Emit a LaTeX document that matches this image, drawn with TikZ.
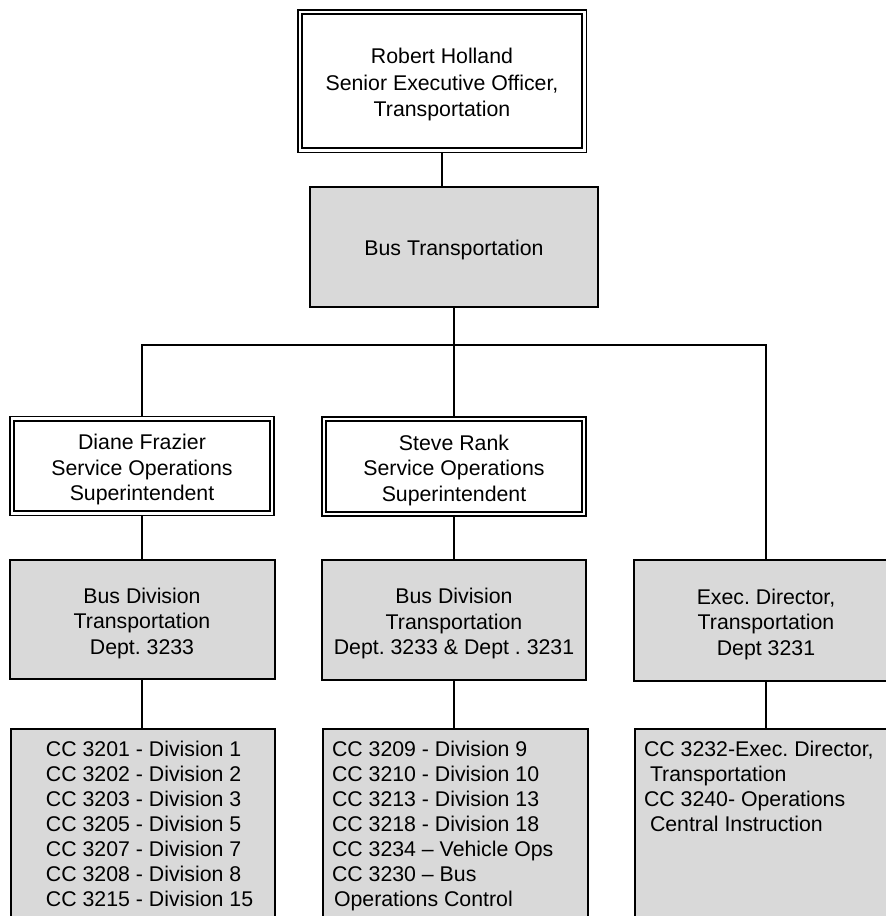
\documentclass[tikz,border=0pt]{standalone}
\usepackage{fontspec}
\setmainfont{Liberation Sans}
\definecolor{boxgray}{gray}{0.85}
\frenchspacing
\newcommand\tstrut{\rule{0pt}{22.5pt}}
\begin{document}
\begin{tikzpicture}[x=1pt,y=-1pt,
  base/.style={font=\fontsize{21.3}{25.5}\selectfont\frenchspacing, align=center, inner sep=0pt},
  dblbox/.style={base, draw=black, double=white, double distance=2.8pt, line width=1.5pt, outer sep=2.9pt, fill=white},
  greybox/.style={base, draw=black, line width=2pt, fill=boxgray},
  listbox/.style={font=\fontsize{21.3}{25}\selectfont\frenchspacing, draw=black, line width=2pt, fill=boxgray, inner xsep=0pt, inner ysep=12.5pt},
  conn/.style={draw=black, line width=2pt}
]
\useasboundingbox (0,0) rectangle (886,916);
\clip (0,0) rectangle (886,916);

% boxes
\node[dblbox, font=\fontsize{21.3}{26.5}\selectfont, minimum width=284.2pt, minimum height=138.2pt] (top) at (442,81)
  {\tstrut Robert Holland\\Senior Executive Officer,\\Transportation};
\node[greybox, minimum width=288pt, minimum height=120pt] (bt) at (454,247)
  {\rule{0pt}{21.5pt}Bus Transportation};
\node[dblbox, minimum width=260pt, minimum height=94.5pt] (df) at (142,466)
  {\tstrut Diane Frazier\\Service Operations\\Superintendent};
\node[dblbox, minimum width=260pt, minimum height=95pt] (sr) at (454,466.5)
  {\tstrut Steve Rank\\Service Operations\\Superintendent};
\node[greybox, minimum width=265pt, minimum height=119pt] (bd1) at (142,619.5)
  {\tstrut Bus Division\\Transportation\\Dept. 3233};
\node[greybox, minimum width=264pt, minimum height=120pt] (bd2) at (454,620)
  {\tstrut Bus Division\\Transportation\\Dept. 3233 \& Dept . 3231};
\node[greybox, minimum width=264pt, minimum height=121pt] (ed) at (766,620.5)
  {\tstrut Exec. Director,\\Transportation\\Dept 3231};

\node[listbox, anchor=north west] (cc1) at (10,728)
  {\parbox[t][200pt][t]{264pt}{\raggedright\leftskip=35pt\relax
   CC 3201 - Division 1\\CC 3202 - Division 2\\CC 3203 - Division 3\\CC 3205 - Division 5\\CC 3207 - Division 7\\CC 3208 - Division 8\\CC 3215 - Division 15}};
\node[listbox, anchor=north west] (cc2) at (322,728)
  {\parbox[t][200pt][t]{265pt}{\raggedright\leftskip=9pt\relax
   CC 3209 - Division 9\\CC 3210 - Division 10\\CC 3213 - Division 13\\CC 3218 - Division 18\\CC 3234 – Vehicle Ops\\CC 3230 – Bus\\\hspace*{2pt}Operations Control}};
\node[listbox, anchor=north west] (cc3) at (634,728)
  {\parbox[t][200pt][t]{264pt}{\raggedright\leftskip=9pt\relax
   CC 3232-Exec. Director,\\\hspace*{6pt}Transportation\\CC 3240- Operations\\\hspace*{6pt}Central Instruction}};

% connectors
\coordinate (j) at (454,345);
\draw[conn] (top.south) -- (top.south |- bt.north);
\draw[conn] (bt.south) -- (bt.south |- sr.north);
\draw[conn] (df.north) |- (j) -- (ed.north |- j) -- (ed.north);
\draw[conn] (df.south) -- (bd1.north);
\draw[conn] (sr.south) -- (bd2.north);
\draw[conn] (bd1.south) -- (bd1.south |- cc1.north);
\draw[conn] (bd2.south) -- (bd2.south |- cc2.north);
\draw[conn] (ed.south) -- (ed.south |- cc3.north);
\end{tikzpicture}
\end{document}
